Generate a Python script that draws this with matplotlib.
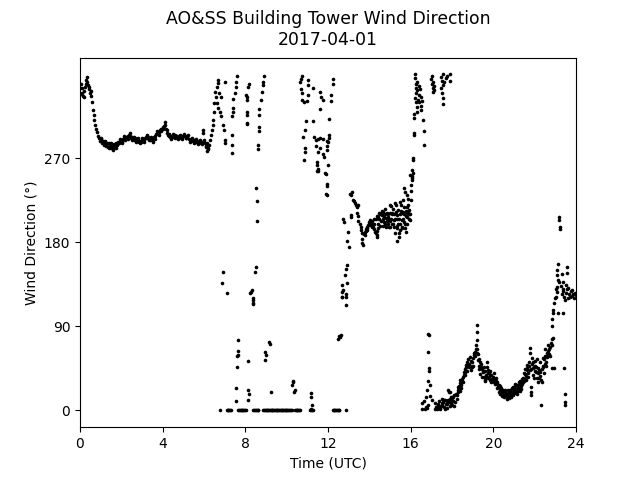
import matplotlib
matplotlib.use("Agg")
import matplotlib.pyplot as plt

# ---- data (time in UTC hours, direction in degrees) ----
# steady morning trace 0 - 6.6 h
trace_t = [0.00,0.05,0.10,0.15,0.20,0.25,0.30,0.35,0.40,0.45,0.50,0.55,0.60,0.63,0.66,0.70,0.74,0.78,0.82,0.86,
           0.90,0.95,1.00,1.05,1.10,1.15,1.20,1.25,1.30,1.35,1.40,1.45,1.50,1.55,1.60,1.65,1.70,1.75,1.80,1.85,
           1.90,1.95,2.00,2.05,2.10,2.15,2.20,2.25,2.30,2.35,2.40,2.45,2.50,2.55,2.60,2.65,2.70,2.75,2.80,2.85,
           2.90,2.95,3.00,3.05,3.10,3.15,3.20,3.25,3.30,3.35,3.40,3.45,3.50,3.55,3.60,3.65,3.70,3.75,3.80,3.85,
           3.90,3.95,4.00,4.05,4.10,4.15,4.20,4.25,4.30,4.35,4.40,4.45,4.50,4.55,4.60,4.65,4.70,4.75,4.80,4.85,
           4.90,4.95,5.00,5.05,5.10,5.15,5.20,5.25,5.30,5.35,5.40,5.45,5.50,5.55,5.60,5.65,5.70,5.75,5.80,5.85,
           5.90,5.93,5.97,6.00,6.05,6.10,6.13,6.18,6.21,6.25,6.29,6.33,6.38,6.42,6.45,6.48,6.50,6.53,6.57]
trace_d = [345,350,340,337,342,347,354,352,349,344,340,337,330,322,316,311,306,301,298,294,
           292,289,291,287,289,284,286,283,285,282,286,283,281,284,281,285,283,286,284,288,
           286,289,290,288,291,292,290,293,294,295,294,292,293,291,290,292,291,289,290,288,
           289,288,290,291,290,292,293,292,293,291,290,291,290,291,293,294,296,297,298,300,
           299,301,304,305,306,302,297,295,294,293,294,293,294,293,292,293,294,293,292,293,
           294,293,294,295,294,292,293,291,290,291,290,289,290,288,289,288,287,289,288,287,
           288,300,297,288,286,283,286,281,280,284,290,295,300,306,311,320,329,341,336]

# extra scattered readings along the morning trace
trace_extra_t = [0.03,0.12,0.18,0.28,0.33,0.43,0.52,
                 1.02,1.12,1.22,1.32,1.42,1.52,1.62,1.72,1.82,1.92,2.02,2.12,2.22,2.32,2.42,2.52,2.62,2.72,2.82,2.92,
                 3.02,3.12,3.22,3.32,3.42,3.52,3.62,3.72,3.82,3.92,4.02,4.12,4.22,4.32,4.42,4.52,4.62,4.72,4.82,4.92,
                 5.02,5.12,5.22,5.32,5.42,5.52,5.62,5.72,5.82,5.92,6.02,6.12,6.16]
trace_extra_d = [339,345,336,350,357,346,342,
                 292,286,289,287,281,286,279,281,287,291,287,294,293,291,297,290,293,288,292,286,
                 292,288,295,290,293,288,291,299,295,302,301,309,300,296,291,296,295,291,295,291,
                 296,292,295,288,292,287,291,285,290,285,290,282,278]

# upper scatter 6.6 - 12.3 h
upper_t = [6.61,6.66,6.69,6.74,6.80,6.64,6.70,6.76,6.82,6.93,6.98,7.02,7.02,7.02,7.34,7.34,7.34,7.40,7.38,7.40,
           7.37,7.50,7.53,7.58,7.55,8.06,8.06,8.06,8.19,8.15,8.03,8.10,8.10,8.10,8.90,8.84,8.84,8.80,8.74,8.68,
           8.68,8.68,8.68,8.63,8.63,
           10.65,10.67,10.73,10.70,10.72,10.72,10.84,10.97,11.05,11.05,11.05,11.26,11.61,11.65,11.74,11.61,12.23,12.23,12.15,12.15,
           12.06,12.06,12.06,12.02,11.94,11.94,11.77,11.80,12.02,11.85,10.94,11.29,10.89,10.81,11.33,11.40,11.50,11.61,11.77,11.94,
           10.89,10.87,10.84,11.40,11.61,11.53,11.45,11.47,11.50,11.47,11.90,11.53,11.97,11.97,11.90,11.94]
upper_d = [347,354,351,340,336,329,324,320,315,306,300,290,286,352,295,284,276,334,324,320,
           315,340,347,358,352,336,333,308,350,347,338,320,316,307,358,352,349,341,333,323,
           316,304,299,284,280,
           352,355,358,344,340,333,330,331,354,349,338,345,341,336,333,323,355,350,338,331,
           312,295,292,288,283,279,275,272,263,254,310,310,300,293,293,290,291,292,291,289,
           281,277,268,283,281,277,266,263,259,257,253,257,243,240,232,231]

# calm periods (0 deg) 6.7 - 12.9 h
calm_t = [6.77,7.10,7.14,7.18,7.22,7.26,7.29,7.66,7.70,7.74,7.78,7.82,7.86,7.90,7.94,7.98,8.03,8.39,8.43,8.47,
          8.52,8.56,8.60,8.63,8.87,8.91,8.95,8.99,9.03,9.07,9.11,9.15,9.19,9.23,9.27,9.31,9.35,9.39,9.43,9.47,
          9.51,9.55,9.59,9.63,9.67,9.71,9.75,9.79,9.83,9.87,9.91,9.95,9.99,10.03,10.07,10.11,10.15,10.19,10.24,10.40,
          10.44,10.48,10.52,10.56,10.61,10.65,11.13,11.17,11.21,11.26,12.23,12.27,12.31,12.35,12.39,12.43,12.47,12.51,12.55,12.87]
calm_d = [0]*len(calm_t)

# low / mid scatter 6.9 - 12.9 h
low_t = [6.93,6.89,7.13,7.66,7.66,7.61,7.63,7.61,7.55,7.55,8.14,8.14,8.18,8.14,8.23,8.26,8.35,8.35,8.37,8.31,
         8.35,8.47,8.52,8.52,8.58,8.58,9.16,9.19,8.95,9.00,8.95,9.22,10.32,10.24,10.40,10.35,10.30,11.18,11.18,11.21,
         11.16,12.50,12.55,12.58,12.63,12.90,12.87,12.82,12.94,12.66,12.74,12.87,12.69,12.87,12.66,12.87,12.70]
low_d = [148,136,126,75,64,58,59,47,24,10,53,22,18,11,126,127,118,115,114,129,
         120,148,154,238,224,203,73,71,63,59,54,20,32,27,22,20,30,19,14,6,
         1,76,80,79,81,156,152,145,136,134,129,125,122,122,122,113,127]

# afternoon cluster 12.7 - 16.1 h
mid_t = [12.74,12.77,12.98,12.93,13.03,13.06,13.10,13.15,13.23,13.28,13.31,13.36,13.42,13.47,13.10,13.13,13.39,13.43,13.47,13.55,
         13.58,13.60,13.63,13.66,13.66,13.71,13.75,13.79,13.83,13.87,13.91,13.95,14.00,14.03,14.08,14.11,14.15,14.19,14.23,14.27,
         14.32,14.35,14.39,14.30,14.35,14.44,14.49,14.52,14.57,14.60,14.64,14.68,14.72,14.76,14.80,14.84,14.88,14.92,14.96,15.00,
         15.00,15.05,15.08,15.12,15.16,15.20,15.24,15.28,15.32,15.32,15.36,15.40,15.44,15.48,15.48,15.52,15.56,15.60,15.64,15.64,
         15.68,15.72,15.76,15.80,15.80,15.84,15.88,15.92,15.97,15.32,15.45,15.77,15.20,15.56,
         15.68,15.72,15.81,15.89,16.00,16.05,15.97,16.10,16.06,16.08,
         14.42,14.46,14.54,14.62,14.66,14.70,14.74,14.78,14.82,14.86,14.90,14.94,14.98,15.02,15.06,15.10,15.14,15.18,15.22,15.26,
         15.30,15.34,15.38,15.42,15.46,15.50,15.54,15.58,15.62,15.66,15.70,15.74,15.78,15.82,15.86,15.90,15.94,15.99,16.02,16.04,
         13.80,13.85,13.90,13.98,14.05,14.13,14.21,14.25,14.37,14.41]
mid_d = [205,202,191,181,175,232,231,234,225,224,222,220,218,220,207,209,211,208,203,200,
         197,193,190,184,179,177,189,191,194,195,197,199,202,204,201,200,197,197,194,191,
         190,188,186,205,208,207,205,210,203,209,205,213,207,200,206,203,207,200,197,203,
         220,219,212,210,200,204,222,213,195,198,209,215,205,223,193,214,204,211,225,213,
         202,200,208,207,218,211,213,205,204,182,186,191,196,196,
         238,234,231,227,241,247,252,254,251,249,
         200,212,198,214,198,202,216,210,196,212,210,205,212,196,205,200,216,210,190,205,
         220,205,200,190,210,200,220,195,205,218,210,195,214,200,220,210,215,210,225,235,
         188,192,193,200,199,203,200,205,192,195]

# evening backing to north 16.1 - 18.0 h
north_t = [16.20,16.25,16.30,16.28,16.24,16.33,16.40,16.45,16.38,16.22,16.27,16.35,16.42,16.48,16.32,16.52,16.30,16.50,16.55,16.18,
           16.61,16.16,16.16,16.65,16.65,16.10,16.10,16.06,16.20,16.16,
           17.00,17.05,17.10,17.03,17.08,17.06,17.12,17.15,17.45,17.50,17.55,17.48,17.58,17.52,17.60,17.70,17.75,17.90,17.92,17.58,17.58]
north_d = [356,350,352,345,340,343,348,344,338,335,330,333,330,326,325,322,320,336,332,313,
           311,297,295,299,284,270,268,258,360,318,
           355,358,352,350,345,341,348,343,357,353,349,345,360,340,352,356,358,360,353,335,328]

# late low-direction trace 16.5 - 24 h
late_t = [16.85,16.89,16.85,16.87,16.90,16.82,16.94,16.77,16.72,16.94,17.02,16.66,16.56,16.53,16.72,16.85,16.69,16.80,
          17.18,17.22,17.26,17.30,17.34,17.38,17.42,17.46,17.50,17.54,17.58,17.62,17.66,17.70,17.74,17.78,17.82,17.86,17.90,17.94,
          17.98,17.82,17.84,18.02,18.06,18.10,18.12,18.15,18.00,17.90,
          18.23,18.27,18.31,18.33,18.36,18.39,18.43,18.47,18.50,18.55,18.58,18.61,18.63,18.66,18.71,18.75,18.79,18.83,18.87,18.91,
          18.95,18.99,19.03,19.07,19.11,19.15,19.19,19.19,19.19,19.21,19.23,19.27,19.31,19.35,19.40,19.44,19.48,19.52,19.56,19.60,
          19.64,19.68,19.72,19.76,19.80,19.84,19.88,19.92,20.00,20.04,20.08,
          20.12,20.16,20.20,20.24,20.28,20.32,20.36,20.40,20.44,20.48,20.52,20.56,20.60,20.65,20.69,20.73,20.77,20.81,20.85,20.89,
          20.93,20.97,21.01,21.05,21.09,21.13,21.17,21.21,21.25,21.29,21.33,21.37,21.41,21.45,21.49,21.53,21.57,21.61,
          21.65,21.69,21.73,21.77,21.77,21.80,21.81,21.82,21.84,21.88,21.92,21.96,22.00,22.04,22.08,22.10,22.14,22.18,22.22,22.26,
          22.30,22.34,22.38,22.42,22.46,22.50,22.54,22.58,22.62,22.66,22.70,22.74,22.78,22.82,22.86,22.90,22.86,22.82,22.84,22.88,
          22.90,22.94,22.98,23.02,23.06,23.10,23.06,23.10,23.12,23.04,23.15,23.19,23.19,23.21,23.23,23.15,23.20,23.25,23.30,23.35,
          23.39,23.43,23.47,23.51,23.55,23.59,23.63,23.67,23.71,23.75,23.79,23.83,23.87,23.91,23.95,24.00,23.31,23.39,23.55,23.55,
          23.52,23.45,23.45,23.47,22.95,23.42,23.39]
late_d = [82,81,63,45,42,32,27,22,14,15,11,10,8,2,4,6,2,3,
          2,4,4,6,7,3,3,5,6,8,9,11,11,7,7,3,11,9,20,14,
          14,22,20,11,10,5,16,9,6,5,
          16,20,22,24,26,29,27,32,34,36,38,41,44,46,52,48,55,50,48,43,
          46,52,56,59,63,70,75,84,92,66,61,60,55,52,46,36,42,41,36,33,
          38,52,40,43,36,38,30,34,36,40,31,
          35,28,30,25,27,22,24,20,18,21,16,20,17,12,18,15,19,22,17,23,
          20,25,22,26,20,18,24,27,24,28,26,30,28,35,32,39,37,43,
          45,40,48,67,62,25,20,16,44,50,38,46,42,53,47,35,40,30,43,37,
          6,30,48,46,55,58,52,62,57,64,60,68,72,70,76,78,45,90,98,104,
          108,115,120,122,127,132,145,150,157,130,104,207,204,197,194,140,138,133,125,130,
          128,122,118,126,130,120,131,125,122,128,129,123,125,120,126,124,146,138,154,147,
          134,18,9,6,45,45,104]

# extra scattered readings along the late trace
late_extra_t = [17.20,17.28,17.36,17.44,17.52,17.60,17.68,17.76,17.88,17.96,18.04,18.18,18.25,18.29,18.37,18.41,18.45,18.53,18.57,18.65,
                18.69,18.73,18.81,18.85,18.93,19.01,19.05,19.13,19.17,19.25,19.29,19.33,19.37,19.42,19.46,19.54,19.58,19.62,19.66,19.70,
                19.74,19.78,19.82,19.86,19.90,19.96,20.02,20.06,20.10,20.14,20.18,20.22,20.26,20.30,20.34,20.38,20.42,20.46,20.50,20.54,
                20.58,20.62,20.67,20.71,20.75,20.79,20.83,20.87,20.91,20.95,20.99,21.03,21.07,21.11,21.15,21.19,21.23,21.27,21.31,21.35,
                21.39,21.43,21.47,21.51,21.55,21.59,21.63,21.67,21.71,21.75,21.86,21.90,21.94,21.98,22.02,22.06,22.12,22.16,22.20,22.24,
                22.28,22.32,22.36,22.40,22.44,22.48,22.52,22.56,22.60,22.64,22.68,22.72]
late_extra_d = [8,1,10,1,12,4,2,10,12,8,14,18,12,25,21,33,24,30,41,38,
                49,42,47,57,53,48,62,58,66,54,48,44,39,50,44,46,31,42,36,46,
                35,40,33,42,38,32,30,34,28,32,24,27,20,26,18,23,15,22,19,14,
                22,19,15,22,13,16,20,14,24,17,19,28,23,22,27,21,30,21,32,23,
                34,30,40,34,44,33,49,36,52,43,56,45,52,35,48,41,55,45,35,52,
                41,33,44,56,40,50,66,48,58,70,66,58]

time_utc = trace_t + trace_extra_t + upper_t + calm_t + low_t + mid_t + north_t + late_t + late_extra_t
direction = trace_d + trace_extra_d + upper_d + calm_d + low_d + mid_d + north_d + late_d + late_extra_d

xticks = [0, 4, 8, 12, 16, 20, 24]
yticks = [0, 90, 180, 270]

fig, ax = plt.subplots(figsize=(6.4, 4.8), dpi=100)
ax.plot(time_utc, direction, 'o', color='k', ms=2.6, mew=0, linestyle='none')
ax.set_xlim(0, 24)
ax.set_ylim(-18, 378)
ax.set_xticks(xticks)
ax.set_yticks(yticks)
ax.set_xlabel('Time (UTC)')
ax.set_ylabel('Wind Direction (°)')
ax.set_title('AO&SS Building Tower Wind Direction\n2017-04-01', fontsize=12.4, pad=9)
fig.savefig('out.png', dpi=100)
